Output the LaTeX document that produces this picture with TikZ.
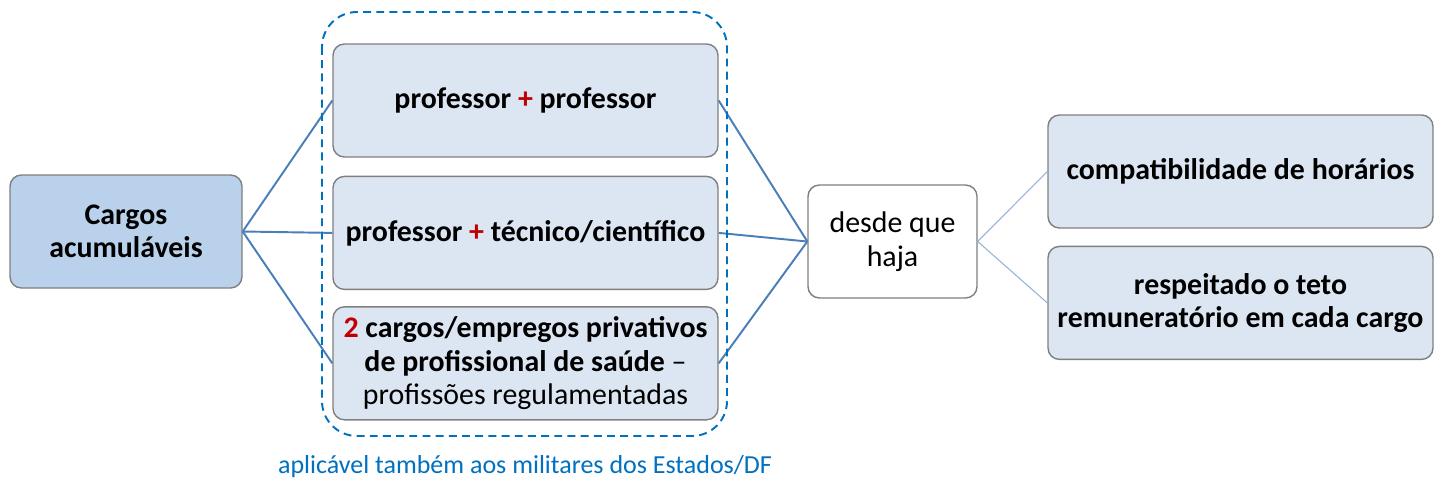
\documentclass[tikz,border=0pt]{standalone}
\usepackage{fontspec}
\setmainfont{Carlito}
\usetikzlibrary{positioning}
\definecolor{boxfill}{HTML}{DCE6F2}
\definecolor{rootfill}{HTML}{B9D1EA}
\definecolor{edge}{HTML}{7F7F7F}
\definecolor{lnkc}{HTML}{4A7EBB}
\definecolor{lnklc}{HTML}{95B3D7}
\definecolor{dashc}{HTML}{0070C0}
\definecolor{plusred}{HTML}{C00000}
\tikzset{
  block/.style={rectangle, draw=edge, fill=boxfill, rounded corners=6.5pt, line width=0.8pt, minimum width=7.7cm, minimum height=2.26cm, align=center, inner sep=2pt, font=\fontsize{17}{19}\selectfont\bfseries},
  root/.style={block, fill=rootfill, minimum width=4.64cm},
  cond/.style={block, fill=white, minimum width=3.38cm, font=\fontsize{17}{19}\selectfont},
  lnk/.style={draw=lnkc, line width=1.1pt},
  lnkl/.style={draw=lnklc, line width=0.6pt},
  frame/.style={draw=dashc, line width=1.1pt, dash pattern=on 4.5pt off 3pt, rounded corners=0.7cm},
  lbl/.style={text=dashc, font=\fontsize{14.8}{16}\selectfont}
}
\begin{document}
\begin{tikzpicture}
\useasboundingbox (0,0) rectangle (28.78,-9.70);

\node (cargos) [root] at (2.52,-4.63) {Cargos\\acumuláveis};
\node (p1) [block] at (10.51,-2.01) {professor {\color{plusred}+} professor};
\node (p2) [block, below=0.36cm of p1] {professor {\color{plusred}+} técnico/científico};
\node (p3) [block, below=0.32cm of p2] {{\color{plusred}2} cargos/empregos privativos\\de profissional de saúde {\mdseries --}\\{\mdseries profissões regulamentadas}};
\node (haja) [cond] at (17.85,-4.83) {desde que\\haja};
\node (horas) [block] at (24.81,-3.43) {compatibilidade de horários};
\node (teto) [block, below=0.34cm of horas] {respeitado o teto\\remuneratório em cada cargo};

\foreach \b in {p1,p2,p3} {
  \draw[lnk] (cargos.east) -- (\b.west);
  \draw[lnk] (\b.east) -- (haja.west);
}
\foreach \b in {horas,teto}
  \draw[lnkl] (haja.east) -- (\b.west);

% grupo tracejado
\draw[frame] (6.44,-0.24) rectangle (14.54,-8.72);
\node (nota) [lbl] at (10.5,-9.34) {aplicável também aos militares dos Estados/DF};

\end{tikzpicture}
\end{document}
